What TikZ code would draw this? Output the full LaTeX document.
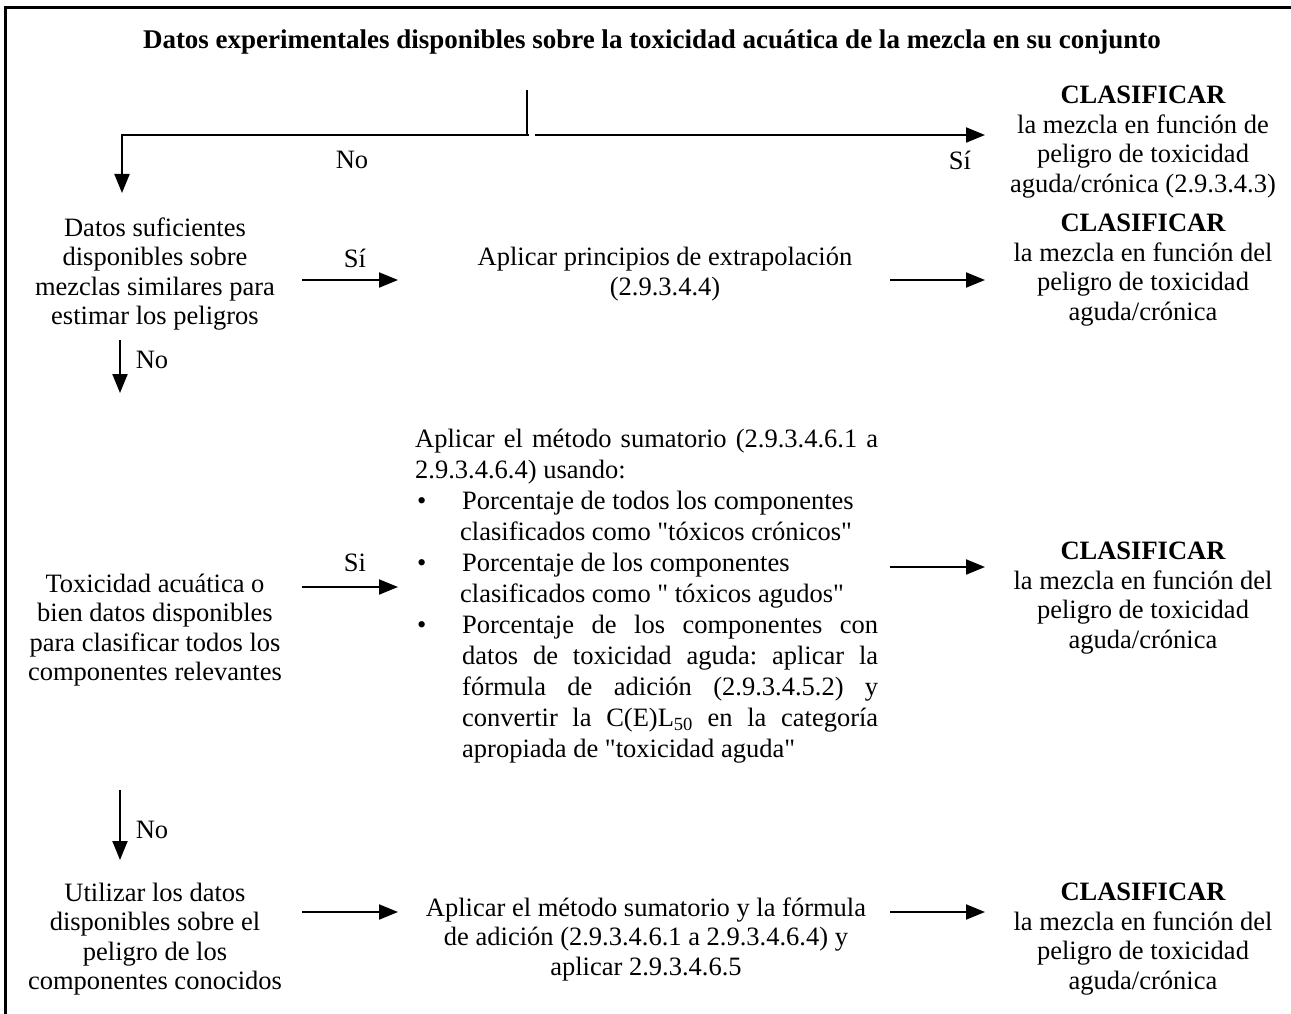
\documentclass[tikz,border=0pt]{standalone}
\usepackage{fontspec}
\setmainfont{Liberation Serif}[Ligatures=TeXOff]
\usetikzlibrary{arrows.meta}
\begin{document}
\frenchspacing
\begin{tikzpicture}[x=1pt,y=-1pt,
  txt/.style={align=center, inner sep=0pt, font=\fontsize{26.5}{29.5}\selectfont},
  lbl/.style={inner sep=0pt, font=\fontsize{26.5}{29.5}\selectfont},
  conn/.style={line width=2pt, -{Triangle[length=19pt,width=15pt]}},
  plainline/.style={line width=2pt},
  framel/.style={line width=3pt}]
\useasboundingbox (0,0) rectangle (1291,1014);
% frame
\draw[framel] (5,1014) -- (5,8) -- (1291,8);
% title
\node[lbl, font=\fontsize{27}{30}\selectfont\bfseries] (title) at (652,42)
  {Datos experimentales disponibles sobre la toxicidad acuática de la mezcla en su conjunto};
% top split
\coordinate (s0) at (527,90);
\coordinate (s1) at (527,135);
\coordinate (sl) at (529,135);
\coordinate (sc) at (122,135);
\coordinate (sd) at (122,193);
\coordinate (sr) at (535,135);
\coordinate (se) at (985,135);
\draw[plainline] (s0) -- (s1);
\draw[conn] (sl) -- (sc) -- (sd);
\draw[conn] (sr) -- (se);
\node[lbl] (no0) at (352,160) {No};
\node[lbl] (si0) at (960,160) {Sí};
% right column top
\node[txt] (R0) at (1143,142) {{\bfseries CLASIFICAR}\\la mezcla en función de\\peligro de toxicidad\\aguda/crónica (2.9.3.4.3)};
% row 2
\node[txt] (L1) at (155,274) {Datos suficientes\\disponibles sobre\\mezclas similares para\\estimar los peligros};
\node[txt] (M1) at (665,274) {Aplicar principios de extrapolación\\(2.9.3.4.4)};
\node[txt] (R1) at (1143,270) {{\bfseries CLASIFICAR}\\la mezcla en función del\\peligro de toxicidad\\aguda/crónica};
\coordinate (a1s) at (302,280); \coordinate (a1e) at (398,280);
\coordinate (a2s) at (890,280); \coordinate (a2e) at (985,280);
\draw[conn] (a1s) -- (a1e);
\draw[conn] (a2s) -- (a2e);
\node[lbl] (si1) at (355,258) {Sí};
\coordinate (d1s) at (120,340); \coordinate (d1e) at (120,393);
\draw[conn] (d1s) -- (d1e);
\node[lbl] (no1) at (152,360) {No};
% row 3
\node[txt] (L2) at (155,630) {Toxicidad acuática o\\bien datos disponibles\\para clasificar todos los\\componentes relevantes};
\node[anchor=west, inner sep=0pt] (M2) at (415,596) {\begin{minipage}{463pt}\fontsize{26.5}{31}\selectfont\noindent
\makebox[463pt][s]{Aplicar el método sumatorio (2.9.3.4.6.1 a}\\
2.9.3.4.6.4) usando:\\
\makebox[47pt][l]{\hspace{2pt}\textbullet}Porcentaje de todos los componentes\\
\hspace*{45pt}clasificados como "tóxicos crónicos"\\
\makebox[47pt][l]{\hspace{2pt}\textbullet}Porcentaje de los componentes\\
\hspace*{45pt}clasificados como " tóxicos agudos"\\
\makebox[47pt][l]{\hspace{2pt}\textbullet}\makebox[416pt][s]{Porcentaje de los componentes con}\\
\hspace*{47pt}\makebox[416pt][s]{datos de toxicidad aguda: aplicar la}\\
\hspace*{47pt}\makebox[416pt][s]{fórmula de adición (2.9.3.4.5.2) y}\\
\hspace*{47pt}\makebox[416pt][s]{convertir la C(E)L\textsubscript{50} en la categoría}\\
\hspace*{47pt}apropiada de "toxicidad aguda"
\end{minipage}};
\node[txt] (R2) at (1143,598) {{\bfseries CLASIFICAR}\\la mezcla en función del\\peligro de toxicidad\\aguda/crónica};
\coordinate (a3s) at (302,587); \coordinate (a3e) at (398,587);
\coordinate (a4s) at (890,567); \coordinate (a4e) at (985,567);
\draw[conn] (a3s) -- (a3e);
\draw[conn] (a4s) -- (a4e);
\node[lbl] (si2) at (355,563) {Si};
\coordinate (d2s) at (120,790); \coordinate (d2e) at (120,860);
\draw[conn] (d2s) -- (d2e);
\node[lbl] (no2) at (152,830) {No};
% row 4
\node[txt] (L3) at (155,939) {Utilizar los datos\\disponibles sobre el\\peligro de los\\componentes conocidos};
\node[txt] (M3) at (646,939) {Aplicar el método sumatorio y la fórmula\\de adición (2.9.3.4.6.1 a 2.9.3.4.6.4) y\\aplicar 2.9.3.4.6.5};
\node[txt] (R3) at (1143,939) {{\bfseries CLASIFICAR}\\la mezcla en función del\\peligro de toxicidad\\aguda/crónica};
\coordinate (a5s) at (302,912); \coordinate (a5e) at (398,912);
\coordinate (a6s) at (890,912); \coordinate (a6e) at (985,912);
\draw[conn] (a5s) -- (a5e);
\draw[conn] (a6s) -- (a6e);
\end{tikzpicture}
\end{document}
